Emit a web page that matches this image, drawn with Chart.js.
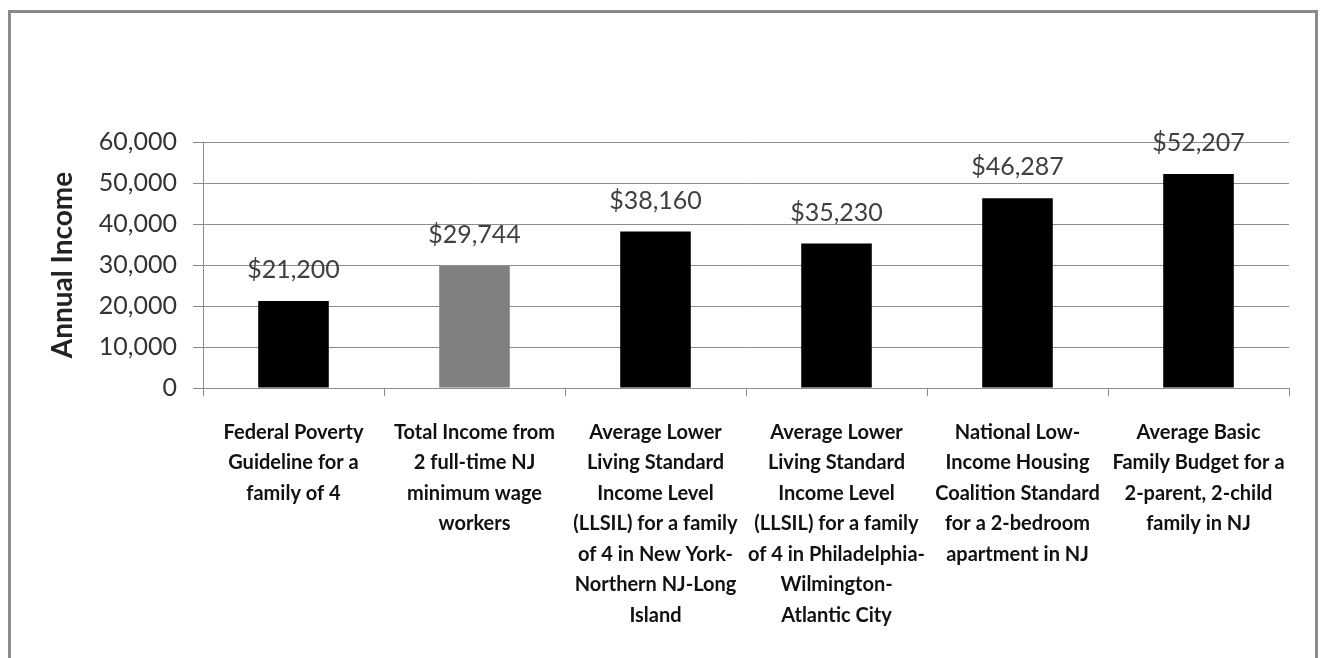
<!DOCTYPE html>
<html>
<head>
<meta charset="utf-8">
<script src="https://cdn.jsdelivr.net/npm/chart.js@4.4.0/dist/chart.umd.min.js"></script>
<style>
  html, body { margin: 0; padding: 0; background: #fff; }
  #wrap { position: relative; width: 1320px; height: 658px; overflow: hidden; }
  #frame { position: absolute; left: 8px; top: 10px; width: 1310px; height: 700px; border: 3px solid #8a8a8a; box-sizing: border-box; }
  canvas { position: absolute; left: 0; top: 0; }
</style>
</head>
<body>
<div id="wrap">
  <div id="frame"></div>
  <canvas id="c" width="1320" height="658"></canvas>
</div>
<script>
const categories = [
  ["Federal Poverty", "Guideline for a", "family of 4"],
  ["Total Income from", "2 full-time NJ", "minimum wage", "workers"],
  ["Average Lower", "Living Standard", "Income Level", "(LLSIL) for a family", "of 4 in New York-", "Northern NJ-Long", "Island"],
  ["Average Lower", "Living Standard", "Income Level", "(LLSIL) for a family", "of 4 in Philadelphia-", "Wilmington-", "Atlantic City"],
  ["National Low-", "Income Housing", "Coalition Standard", "for a 2-bedroom", "apartment in NJ"],
  ["Average Basic", "Family Budget for a", "2-parent, 2-child", "family in NJ"]
];
const incomeValues = [21200, 29744, 38160, 35230, 46287, 52207];
const barColors = ["#000000", "#808080", "#000000", "#000000", "#000000", "#000000"];
const yAxisTitle = "Annual Income";
const yMin = 0, yMax = 60000, yStep = 10000;

const FONT = "Lato, 'Open Sans', sans-serif";

const valueLabels = {
  id: 'valueLabels',
  afterDatasetsDraw(chart) {
    const ctx = chart.ctx;
    const meta = chart.getDatasetMeta(0);
    ctx.save();
    ctx.font = "25px " + FONT;
    ctx.fillStyle = "#404040";
    ctx.textAlign = "center";
    ctx.textBaseline = "middle";
    meta.data.forEach((bar, i) => {
      const v = chart.data.datasets[0].data[i];
      ctx.fillText("$" + v.toLocaleString('en-US'), bar.x, bar.y - 31);
    });
    ctx.restore();
  }
};

new Chart(document.getElementById('c'), {
  type: 'bar',
  data: {
    labels: categories,
    datasets: [{
      data: incomeValues,
      backgroundColor: barColors,
      borderWidth: 0,
      categoryPercentage: 1,
      barPercentage: 0.39
    }]
  },
  options: {
    responsive: false,
    animation: false,
    events: [],
    layout: { padding: { left: 0, top: 142, right: 31, bottom: 0 } },
    plugins: { legend: { display: false }, tooltip: { enabled: false } },
    scales: {
      x: {
        offset: true,
        grid: { display: true, drawOnChartArea: false, drawTicks: true, tickLength: 8, color: "#8c8c8c", offset: true },
        border: { display: true, color: "#8c8c8c", width: 1 },
        ticks: {
          color: "#111",
          font: { family: FONT, size: 20, weight: 'bold', lineHeight: 30.5 / 20 },
          padding: 21,
          maxRotation: 0,
          autoSkip: false
        },
        afterFit(scale) { scale.height = 658 - 388; }
      },
      y: {
        min: yMin,
        max: yMax,
        grid: { color: "#8c8c8c", tickLength: 10, lineWidth: 1 },
        border: { display: true, color: "#8c8c8c", width: 1 },
        ticks: {
          stepSize: yStep,
          color: "#333",
          padding: 16,
          font: { family: FONT, size: 25 },
          callback: v => v.toLocaleString('en-US')
        },
        title: {
          display: true,
          text: yAxisTitle,
          color: "#222",
          font: { family: FONT, size: 28, weight: 'bold', lineHeight: 1.2 },
          padding: { top: 46, bottom: 0 }
        },
        afterFit(scale) { scale.width = 203; }
      }
    }
  },
  plugins: [valueLabels]
});
</script>
</body>
</html>
